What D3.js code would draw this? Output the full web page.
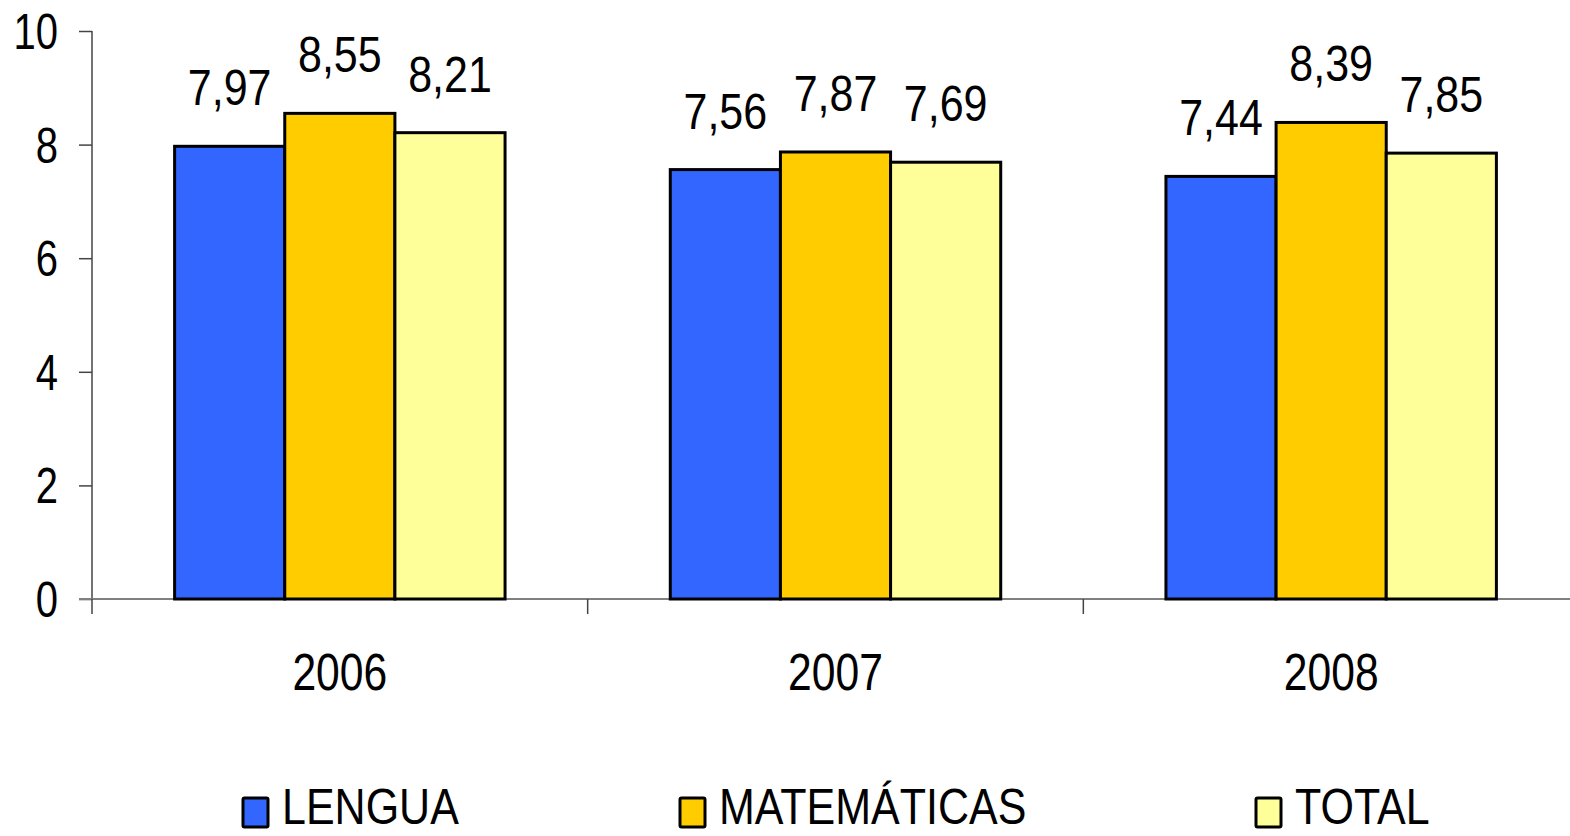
<!DOCTYPE html>
<html><head><meta charset="utf-8">
<script src="https://cdn.jsdelivr.net/npm/d3@7"></script>
<style>body{margin:0;background:#fff}svg{display:block}</style>
</head><body><svg id="c" width="1570" height="836"></svg>
<script>
const categories = ["2006", "2007", "2008"];
const seriesNames = ["LENGUA", "MATEMÁTICAS", "TOTAL"];
const lengua = [7.97, 7.56, 7.44];
const matematicas = [8.55, 7.87, 8.39];
const total = [8.21, 7.69, 7.85];
const yTicks = [0, 2, 4, 6, 8, 10];
const colors = ["#3366FF", "#FFCC00", "#FFFF99"];
const series = [lengua, matematicas, total];

const svg = d3.select("#c");
const FONT = "'Liberation Sans', Arial, sans-serif";
const SX = 0.83;
const x0 = 92, x1 = 1579, yTop = 31, yBot = 599;

const x = d3.scaleBand().domain(categories).range([x0, x1]).paddingInner(0).paddingOuter(0);
const y = d3.scaleLinear().domain([0, 10]).range([yBot, yTop]);
const bw = x.bandwidth();
const xs = d3.scaleBand().domain(seriesNames).range([bw * 0.75 / 4.5, bw - bw * 0.75 / 4.5]);

function ctext(g, tx, ty, str, anchor, size, sx) {
  g.append("text")
    .attr("transform", `translate(${tx},${ty}) scale(${sx || SX},1)`)
    .attr("text-anchor", anchor)
    .attr("font-family", FONT)
    .attr("font-size", size)
    .attr("fill", "#000")
    .text(str);
}

// y axis
const yAxis = svg.append("g").attr("transform", `translate(${x0},0)`)
  .call(d3.axisLeft(y).tickValues(yTicks).tickSize(13).tickFormat(""));
yAxis.select(".domain").attr("stroke", "#444").attr("stroke-width", 1.5).attr("d", `M0,${yTop}V${yBot}`);
yAxis.selectAll(".tick line").attr("stroke", "#444").attr("stroke-width", 1.5);
yTicks.forEach(t => ctext(svg, 58, y(t) + 18, String(t), "end", 50, 0.8));

// x axis
const xAxisG = svg.append("g").attr("transform", `translate(0,${yBot})`);
xAxisG.append("line").attr("x1", x0 - 13).attr("x2", 1570).attr("y1", 0).attr("y2", 0)
  .attr("stroke", "#808080").attr("stroke-width", 2);
categories.forEach(c => {
  xAxisG.append("line").attr("x1", x(c)).attr("x2", x(c)).attr("y1", 0).attr("y2", 15)
    .attr("stroke", "#444").attr("stroke-width", 1.5);
  ctext(svg, x(c) + bw / 2, 690, c, "middle", 52, 0.82);
});

// bars
categories.forEach((c, i) => {
  seriesNames.forEach((s, j) => {
    const v = series[j][i];
    const bx = x(c) + xs(s);
    svg.append("rect")
      .attr("x", bx).attr("y", y(v))
      .attr("width", xs.bandwidth()).attr("height", y(0) - y(v))
      .attr("fill", colors[j]).attr("stroke", "#000").attr("stroke-width", 3);
    ctext(svg, bx + xs.bandwidth() / 2, y(v) - 41, d3.format(".2f")(v).replace(".", ","), "middle", 50, 0.86);
  });
});

// legend
const legX = [243, 680, 1256];
seriesNames.forEach((s, j) => {
  svg.append("rect").attr("x", legX[j]).attr("y", 798).attr("width", 25).attr("height", 29)
    .attr("fill", colors[j]).attr("stroke", "#000").attr("stroke-width", 3).attr("rx", 1.5);
  ctext(svg, legX[j] + 39, 824, s, "start", 50, 0.86);
});
</script></body></html>
